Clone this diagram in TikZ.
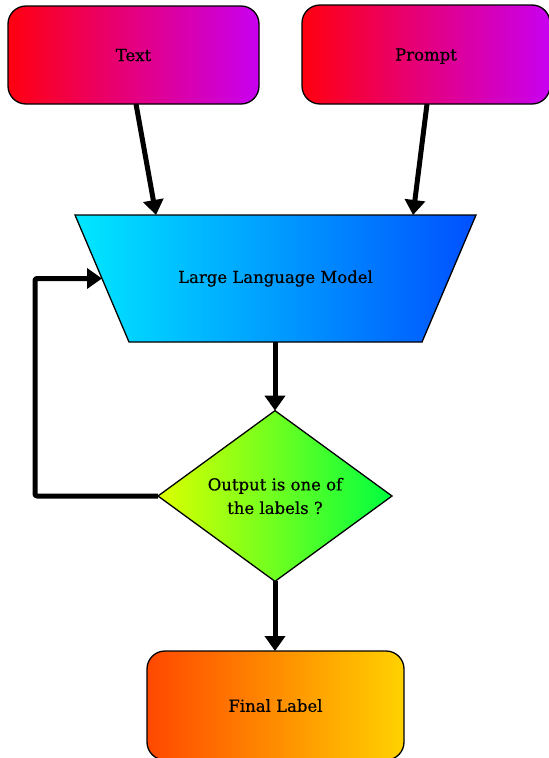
\documentclass[tikz,border=0pt]{standalone}
\usepackage{fontspec}
\setmainfont[FakeBold=0.5]{DejaVu Serif}
\usetikzlibrary{shapes.geometric,arrows.meta,calc}

\definecolor{redL}{HTML}{FF0010}
\definecolor{purpleR}{HTML}{C800F0}
\definecolor{cyanL}{HTML}{00E8FF}
\definecolor{blueR}{HTML}{0050FF}
\definecolor{limeL}{HTML}{DCFF00}
\definecolor{greenR}{HTML}{00FF40}
\definecolor{orangeL}{HTML}{FF4800}
\definecolor{goldR}{HTML}{FFD200}

\tikzset{
  label font/.style={font=\fontsize{16.5}{23.5}\selectfont},
  box/.style={draw=black, line width=1.3pt, rounded corners=18pt,
    inner sep=0pt, outer sep=0pt, text depth=0pt, label font},
  inputbox/.style={box, left color=redL, right color=purpleR},
  modelshape/.style={draw=black, line width=1.3pt, line join=miter,
    left color=cyanL, right color=blueR},
  decisionbox/.style={draw=black, line width=1.3pt, diamond,
    inner sep=0pt, outer sep=0pt, left color=limeL, right color=greenR,
    align=center, label font},
  outputbox/.style={box, left color=orangeL, right color=goldR},
  flow/.style={line width=5pt, line join=round,
    -{Triangle[width=20pt,length=15pt]}},
}

\begin{document}
\begin{tikzpicture}[x=1pt,y=-1pt]
  \useasboundingbox (0,0) rectangle (549,758);

  % input boxes
  \node[inputbox, minimum width=251pt, minimum height=98pt]
    (text) at (133.5,55) {Text};
  \node[inputbox, minimum width=248pt, minimum height=99pt]
    (prompt) at (426,54.5) {Prompt};

  % model: an upside-down trapezium, wide on top
  \coordinate (tl) at (75,215);
  \coordinate (tr) at (476,215);
  \coordinate (br) at (422,342);
  \coordinate (bl) at (129,342);
  \path[modelshape] (tl) -- (tr) -- (br) -- (bl) -- cycle;
  \node[label font] (llm) at (275.5,278.5) {Large Language Model};
  \coordinate (llmin1) at ($(tl)!0.202!(tr)$);
  \coordinate (llmin2) at ($(tl)!0.843!(tr)$);
  \coordinate (llmleft) at ($(tl)!0.5!(bl)$);
  \coordinate (llmout) at ($(bl)!0.5!(br)$);

  % decision
  \node[decisionbox, minimum width=234pt, minimum height=170pt]
    (dec) at (275,496) {Output is one of\\the labels ?};

  % result
  \node[outputbox, minimum width=257pt, minimum height=109pt]
    (final) at (275.5,705.5) {Final Label};

  % connectors
  \draw[flow] ([xshift=2.5pt]text.south) -- (llmin1);
  \draw[flow] ([xshift=1pt]prompt.south) -- (llmin2);
  \draw[flow] (llmout -| dec.north) -- (dec.north);
  \draw[flow] (dec.south) -- (dec.south |- final.north);

  % feedback loop back into the model
  \coordinate (loopx) at (35,0);
  \draw[flow, rounded corners=2pt] (dec.west) -- (dec.west -| loopx)
    |- (llmleft);
\end{tikzpicture}
\end{document}
